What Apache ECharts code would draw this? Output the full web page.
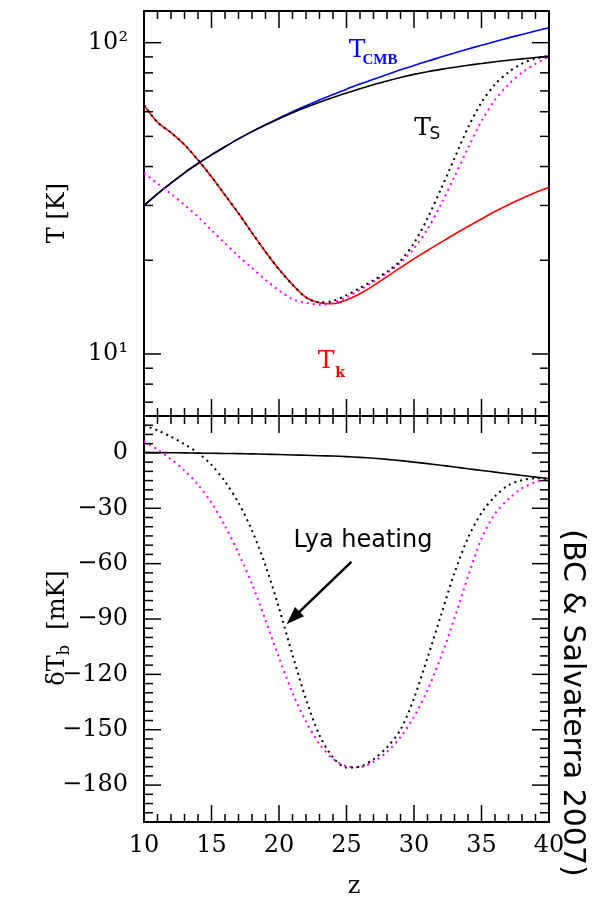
<!DOCTYPE html>
<html><head><meta charset="utf-8">
<script src="https://cdn.jsdelivr.net/npm/echarts@6.0.0/dist/echarts.min.js"></script>
<style>html,body{margin:0;padding:0;background:#fff;}#chart{width:592px;height:898px;}</style>
</head><body><div id="chart"></div>
<script>
// ---------- data ----------
const redshift = [10,11,12,13,14,15,16,17,18,19,20,21,22,23,24,25,26,27,28,29,30,31,32,33,34,35,36,37,38,39,40];
// top panel (K)
const tempCMB = [30.0,32.7,35.4,38.2,40.9,43.6,46.3,49.1,51.8,54.5,57.2,60.0,62.7,65.4,68.1,70.9,73.6,76.3,79.0,81.8,84.5,87.2,89.9,92.7,95.4,98.1,100.8,103.6,106.3,109.0,111.7];
const tempSpin = [30.0,32.7,35.4,38.2,40.9,43.6,46.3,49.1,51.8,54.4,57.0,59.55,62.0,64.4,66.7,68.9,71.1,73.3,75.3,77.3,79.1,80.7,82.1,83.4,84.6,85.7,86.8,87.8,88.7,89.6,90.5];
const tempKin = [63.0,55.5,51.4,47.0,42.0,37.1,32.4,28.3,24.5,21.3,18.7,16.7,15.2,14.6,14.5,14.91,15.61,16.57,17.72,18.94,20.2,21.5,22.83,24.24,25.67,27.13,28.68,30.16,31.58,32.99,34.3];
const tempSpinLya = [63.0,55.5,51.4,47.0,42.0,37.1,32.4,28.3,24.5,21.3,18.7,16.7,15.2,14.65,14.8,15.45,16.29,17.26,18.37,19.95,22.7,27.29,33.88,42.56,53.33,64.27,73.45,80.35,85.7,88.92,90.5];
const tempKinLya = [38.1,35.3,32.7,30.1,27.6,25.0,22.7,20.6,18.9,17.3,16.0,15.0,14.6,14.4,14.6,15.2,16.06,17.05,18.19,19.63,21.82,25.16,30.26,37.13,45.8,55.96,65.44,73.43,80.17,85.47,90.2];
// bottom panel (mK)
const dTbSolid = [0.3,0.2,0.1,0.0,-0.1,-0.2,-0.3,-0.4,-0.5,-0.7,-0.9,-1.1,-1.3,-1.5,-1.7,-2.0,-2.4,-2.9,-3.5,-4.2,-5.0,-5.8,-6.7,-7.6,-8.6,-9.5,-10.4,-11.3,-12.2,-13.1,-14.0];
const dTbBlackDot = [15.0,12.2,8.8,4.7,0.0,-6.5,-15.5,-27.0,-42.0,-61.0,-84.0,-109.5,-133.5,-153.0,-165.0,-170.5,-170.0,-166.0,-159.5,-150.0,-133.0,-111.0,-88.0,-65.0,-46.0,-32.5,-23.5,-17.5,-14.8,-13.7,-14.0];
const dTbMagentaDot = [6.3,1.8,-3.4,-9.5,-17.2,-27.0,-39.5,-54.3,-71.0,-90.5,-111.0,-130.0,-145.5,-157.8,-165.8,-169.8,-170.3,-167.3,-162.0,-154.0,-143.0,-128.5,-110.5,-89.5,-67.0,-46.5,-33.0,-25.0,-19.2,-15.8,-14.0];
// ticks
const zMajorTicks = [10,15,20,25,30,35,40];
const zMinorTicks = [11,12,13,14,16,17,18,19,21,22,23,24,26,27,28,29,31,32,33,34,36,37,38,39];
const tempMajorTicks = [10,100];
const tempTickLabels = ['10\u00B9','10\u00B2'];
const tempMinorTicks = [7,8,9,20,30,40,50,60,70,80,90];
const dTbMajorTicks = [0,-30,-60,-90,-120,-150,-180];
const dTbTickLabels = ['0','\u221230','\u221260','\u221290','\u2212120','\u2212150','\u2212180'];
const dTbMinorTicks = [15,10,5,-5,-10,-15,-20,-25,-35,-40,-45,-50,-55,-65,-70,-75,-80,-85,-95,-100,-105,-110,-115,-125,-130,-135,-140,-145,-155,-160,-165,-170,-175,-185,-190,-195];
// annotation arrow (data coords, bottom panel)
const arrowFrom = [25.36, -59.0];
const arrowTo = [21.04, -89.4];

// ---------- helpers ----------
const SERIF = '"DejaVu Serif", serif';
const SANS = '"DejaVu Sans", sans-serif';
const pairs = (ys) => redshift.map((z, i) => [z, ys[i]]);
const mctx = document.createElement('canvas').getContext('2d');
function tw(t, font) { mctx.font = font; return mctx.measureText(t).width; }

function xTickSeries(gi, values, len) {
  return {
    type: 'custom', xAxisIndex: gi, yAxisIndex: gi, silent: true, z: 5,
    data: values.map(v => [v, gi === 0 ? 10 : 0]),
    renderItem: (params, api) => {
      const cs = params.coordSys;
      const x = api.coord([api.value(0), api.value(1)])[0];
      const st = { stroke: '#000', lineWidth: 1.5 };
      return { type: 'group', children: [
        { type: 'line', shape: { x1: x, y1: cs.y, x2: x, y2: cs.y + len }, style: st },
        { type: 'line', shape: { x1: x, y1: cs.y + cs.height, x2: x, y2: cs.y + cs.height - len }, style: st }
      ]};
    }
  };
}
function yTickSeries(gi, values, len, labels) {
  return {
    type: 'custom', xAxisIndex: gi, yAxisIndex: gi, silent: true, z: 5,
    data: values.map(v => [10, v]),
    renderItem: (params, api) => {
      const cs = params.coordSys;
      const y = api.coord([api.value(0), api.value(1)])[1];
      const st = { stroke: '#000', lineWidth: 1.5 };
      const ch = [
        { type: 'line', shape: { x1: cs.x, y1: y, x2: cs.x + len, y2: y }, style: st },
        { type: 'line', shape: { x1: cs.x + cs.width, y1: y, x2: cs.x + cs.width - len, y2: y }, style: st }
      ];
      if (labels) {
        ch.push({ type: 'text', x: cs.x - 16, y: y, style: {
          text: labels[params.dataIndex], font: '24px ' + SERIF, fill: '#000', align: 'right', verticalAlign: 'middle' } });
      }
      return { type: 'group', children: ch };
    }
  };
}
function lineSeries(gi, ys, color, dotted, z) {
  return {
    type: 'line', xAxisIndex: gi, yAxisIndex: gi, data: pairs(ys), showSymbol: false, smooth: 0.3,
    z: z, silent: true,
    lineStyle: dotted ? { color: color, width: 2, type: [2, 4] } : { color: color, width: 1.6 }
  };
}

// label "δT_b [mK]" pieces
const yl1 = '24px ' + SERIF, yl2 = '16px ' + SERIF;
const p1 = '\u03B4T', p2 = 'b', p3 = '  [mK]';
const w1 = tw(p1, yl1), w2 = tw(p2, yl2), w3 = tw(p3, yl1);
const wTot = w1 + w2 + w3;

const chart = echarts.init(document.getElementById('chart'), null, { renderer: 'canvas' });
chart.setOption({
  animation: false,
  backgroundColor: '#fff',
  grid: [
    { left: 144, top: 11, width: 405, height: 405, show: true, borderColor: '#000', borderWidth: 2, backgroundColor: 'transparent' },
    { left: 144, top: 416, width: 405, height: 406, show: true, borderColor: '#000', borderWidth: 2, backgroundColor: 'transparent' }
  ],
  xAxis: [
    { gridIndex: 0, type: 'value', min: 10, max: 40, axisLine: { show: false }, axisTick: { show: false }, axisLabel: { show: false }, splitLine: { show: false } },
    { gridIndex: 1, type: 'value', min: 10, max: 40, interval: 5, axisLine: { show: false }, axisTick: { show: false }, splitLine: { show: false },
      axisLabel: { fontFamily: SERIF, fontSize: 24, color: '#000', margin: 12 } }
  ],
  yAxis: [
    { gridIndex: 0, type: 'log', logBase: 10, min: 6.32, max: 126.4, axisLine: { show: false }, axisTick: { show: false }, axisLabel: { show: false }, splitLine: { show: false } },
    { gridIndex: 1, type: 'value', min: -200, max: 20, axisLine: { show: false }, axisTick: { show: false }, axisLabel: { show: false }, splitLine: { show: false } }
  ],
  series: [
    xTickSeries(0, zMajorTicks, 17), xTickSeries(0, zMinorTicks, 8),
    xTickSeries(1, zMajorTicks, 17), xTickSeries(1, zMinorTicks, 8),
    yTickSeries(0, tempMajorTicks, 17, tempTickLabels), yTickSeries(0, tempMinorTicks, 9),
    yTickSeries(1, dTbMajorTicks, 17, dTbTickLabels), yTickSeries(1, dTbMinorTicks, 9),
    lineSeries(0, tempCMB, '#0000ff', false, 2),
    lineSeries(0, tempSpin, '#000000', false, 3),
    lineSeries(0, tempKin, '#ff0000', false, 2),
    lineSeries(0, tempKinLya, '#ff00ff', true, 3),
    lineSeries(0, tempSpinLya, '#000000', true, 4),
    lineSeries(1, dTbSolid, '#000000', false, 2),
    lineSeries(1, dTbMagentaDot, '#ff00ff', true, 3),
    Object.assign(lineSeries(1, dTbBlackDot, '#000000', true, 4), {
      markLine: { silent: true, symbol: ['none', 'triangle'], symbolSize: [13, 18], animation: false,
        lineStyle: { color: '#000', width: 2.5, type: 'solid' }, label: { show: false },
        emphasis: { disabled: true },
        data: [[{ coord: arrowFrom }, { coord: arrowTo }]] }
    })
  ],
  graphic: [
    { type: 'text', x: 357, y: 50, style: { text: 'T', font: '25px ' + SERIF, fill: '#0000ff', align: 'center', verticalAlign: 'middle' } },
    { type: 'text', x: 380, y: 60, style: { text: 'CMB', font: 'bold 15px "Liberation Serif", serif', fill: '#0000ff', align: 'center', verticalAlign: 'middle' } },
    { type: 'text', x: 422.5, y: 128, style: { text: 'T', font: '25px ' + SERIF, fill: '#000', align: 'center', verticalAlign: 'middle' } },
    { type: 'text', x: 435, y: 135, style: { text: 'S', font: '17px ' + SANS, fill: '#000', align: 'center', verticalAlign: 'middle' } },
    { type: 'text', x: 326, y: 361, style: { text: 'T', font: '25px ' + SERIF, fill: '#ff0000', align: 'center', verticalAlign: 'middle' } },
    { type: 'text', x: 340, y: 373.5, style: { text: 'k', font: 'bold 14px ' + SERIF, fill: '#ff0000', align: 'center', verticalAlign: 'middle' } },
    { type: 'text', x: 354, y: 886.5, style: { text: 'z', font: '24px ' + SERIF, fill: '#000', align: 'center', verticalAlign: 'middle' } },
    { type: 'text', x: 58, y: 213, rotation: Math.PI / 2, style: { text: 'T [K]', font: '24px ' + SERIF, fill: '#000', align: 'center', verticalAlign: 'middle' } },
    { type: 'group', x: 58, y: 628, rotation: Math.PI / 2, children: [
      { type: 'text', x: -wTot / 2, y: 0, style: { text: p1, font: yl1, fill: '#000', align: 'left', verticalAlign: 'middle' } },
      { type: 'text', x: -wTot / 2 + w1, y: 7, style: { text: p2, font: yl2, fill: '#000', align: 'left', verticalAlign: 'middle' } },
      { type: 'text', x: -wTot / 2 + w1 + w2, y: 0, style: { text: p3, font: yl1, fill: '#000', align: 'left', verticalAlign: 'middle' } }
    ]},
    { type: 'text', x: 363, y: 541, style: { text: 'Lya heating', font: '24px ' + SANS, fill: '#000', align: 'center', verticalAlign: 'middle' } },
    { type: 'text', x: 572, y: 703, rotation: -Math.PI / 2, style: { text: '(BC & Salvaterra 2007)', font: '30px ' + SANS, fill: '#000', align: 'center', verticalAlign: 'middle' } }
  ]
});
</script>
</body></html>
